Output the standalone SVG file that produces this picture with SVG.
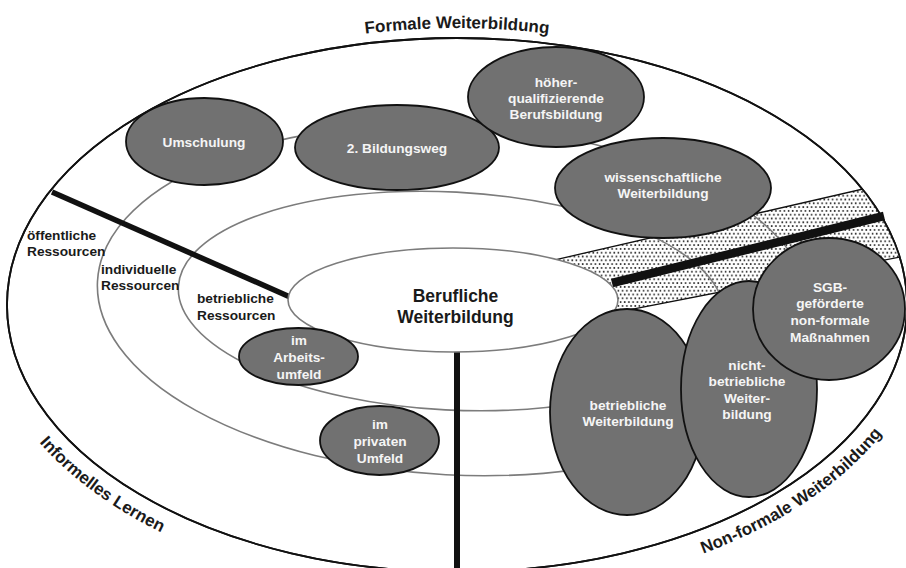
<svg xmlns="http://www.w3.org/2000/svg" xmlns:xlink="http://www.w3.org/1999/xlink" width="906" height="568" viewBox="0 0 906 568">
<style>
.ring{fill:none;stroke:#7c7c7c;stroke-width:1.6}
.node{fill:#717171;stroke:#111;stroke-width:1.8}
.wt{font-family:"Liberation Sans",Arial,sans-serif;font-weight:bold;font-size:13.7px;fill:#f5f5f5;text-anchor:middle}
.bt{font-family:"Liberation Sans",Arial,sans-serif;font-weight:bold;font-size:13.7px;fill:#1a1a1a}
.arc{font-family:"Liberation Sans",Arial,sans-serif;font-weight:bold;font-size:17px;fill:#1a1a1a}
.thick{stroke:#111;fill:none}
</style>
<defs>
<pattern id="dots" width="4.2" height="7.6" patternUnits="userSpaceOnUse">
<rect width="4.2" height="7.6" fill="#fff"/>
<circle cx="1.05" cy="1.9" r="0.9" fill="#1a1a1a"/>
<circle cx="3.15" cy="5.7" r="0.9" fill="#1a1a1a"/>
</pattern>
<clipPath id="outerClip"><ellipse cx="457" cy="305" rx="450" ry="267"/></clipPath>
<path id="topArc" d="M -3,305 A 460,277 0 0 1 917,305"/>
<path id="leftArc" d="M -17,305 A 474,291 0 0 0 457,596"/>
<path id="rightArc" d="M 457,596 A 474,291 0 0 0 931,305"/>
</defs>

<g id="background">
<ellipse cx="457" cy="305" rx="450" ry="267" fill="#fff" stroke="#111" stroke-width="1.8"/>
<polygon points="540,263.3 900,180.5 920,253.1 560,323.3" fill="url(#dots)" stroke="#111" stroke-width="1.3" clip-path="url(#outerClip)"/>
<ellipse class="ring" cx="451" cy="301" rx="273" ry="109" transform="rotate(3 451 301)"/>
<ellipse class="ring" cx="455" cy="300" rx="358" ry="175" transform="rotate(3 455 300)"/>
</g>

<g id="connectors">
<line class="thick" x1="52" y1="192" x2="290" y2="297" stroke-width="5.5"/>
<line class="thick" x1="457" y1="350" x2="457" y2="568" stroke-width="6"/>
<line class="thick" x1="612" y1="283" x2="884" y2="216" stroke-width="8.5"/>
</g>

<g id="center">
<ellipse cx="453" cy="300" rx="165" ry="52" fill="#fff" stroke="#7c7c7c" stroke-width="1.6"/>
<text x="455.5" y="302" font-family="Liberation Sans, Arial, sans-serif" font-weight="bold" font-size="17.5" fill="#1a1a1a" text-anchor="middle">Berufliche</text>
<text x="455.5" y="323" font-family="Liberation Sans, Arial, sans-serif" font-weight="bold" font-size="17.5" fill="#1a1a1a" text-anchor="middle">Weiterbildung</text>
</g>

<g id="umschulung">
<ellipse class="node" cx="204.5" cy="141.5" rx="78.5" ry="43.5"/>
<text class="wt" x="204" y="147">Umschulung</text>
</g>
<g id="bildungsweg">
<ellipse class="node" cx="397" cy="147.5" rx="102" ry="42.5"/>
<text class="wt" x="397" y="153">2. Bildungsweg</text>
</g>
<g id="hoeher">
<ellipse class="node" cx="556" cy="97" rx="88" ry="50"/>
<text class="wt" x="556" y="87">höher-</text>
<text class="wt" x="556" y="103">qualifizierende</text>
<text class="wt" x="556" y="119">Berufsbildung</text>
</g>
<g id="wissenschaftlich">
<ellipse class="node" cx="663" cy="188" rx="108" ry="50"/>
<text class="wt" x="663" y="182">wissenschaftliche</text>
<text class="wt" x="663" y="198">Weiterbildung</text>
</g>
<g id="arbeitsumfeld">
<ellipse class="node" cx="298.5" cy="356.5" rx="59.5" ry="28.5"/>
<text class="wt" x="299" y="345">im</text>
<text class="wt" x="299" y="362">Arbeits-</text>
<text class="wt" x="299" y="379">umfeld</text>
</g>
<g id="privat">
<ellipse class="node" cx="379.5" cy="440.5" rx="59.5" ry="34.5"/>
<text class="wt" x="380" y="429">im</text>
<text class="wt" x="380" y="446">privaten</text>
<text class="wt" x="380" y="463">Umfeld</text>
</g>
<g id="betrieblich">
<ellipse class="node" cx="627" cy="412" rx="77" ry="103"/>
<text class="wt" x="628" y="410">betriebliche</text>
<text class="wt" x="628" y="426">Weiterbildung</text>
</g>
<g id="nichtbetrieblich">
<ellipse class="node" cx="749" cy="389" rx="68" ry="108"/>
<text class="wt" x="747" y="370">nicht-</text>
<text class="wt" x="747" y="386">betriebliche</text>
<text class="wt" x="747" y="403">Weiter-</text>
<text class="wt" x="747" y="419">bildung</text>
</g>
<g id="sgb">
<ellipse class="node" cx="829" cy="309" rx="76" ry="71"/>
<text class="wt" x="830" y="292">SGB-</text>
<text class="wt" x="830" y="308">geförderte</text>
<text class="wt" x="830" y="325">non-formale</text>
<text class="wt" x="830" y="342">Maßnahmen</text>
</g>

<g id="outline">
<ellipse cx="457" cy="305" rx="450" ry="267" fill="none" stroke="#111" stroke-width="1.8"/>
</g>

<g id="labels">
<text class="bt" x="27" y="240">öffentliche</text>
<text class="bt" x="27" y="256">Ressourcen</text>
<text class="bt" x="101" y="274">individuelle</text>
<text class="bt" x="101" y="290">Ressourcen</text>
<text class="bt" x="197" y="303">betriebliche</text>
<text class="bt" x="197" y="320">Ressourcen</text>
<text class="arc" text-anchor="middle"><textPath xlink:href="#topArc" href="#topArc" startOffset="50%">Formale Weiterbildung</textPath></text>
<text class="arc"><textPath xlink:href="#leftArc" href="#leftArc" startOffset="152">Informelles Lernen</textPath></text>
<text class="arc"><textPath xlink:href="#rightArc" href="#rightArc" startOffset="251">Non-formale Weiterbildung</textPath></text>
</g>
</svg>
